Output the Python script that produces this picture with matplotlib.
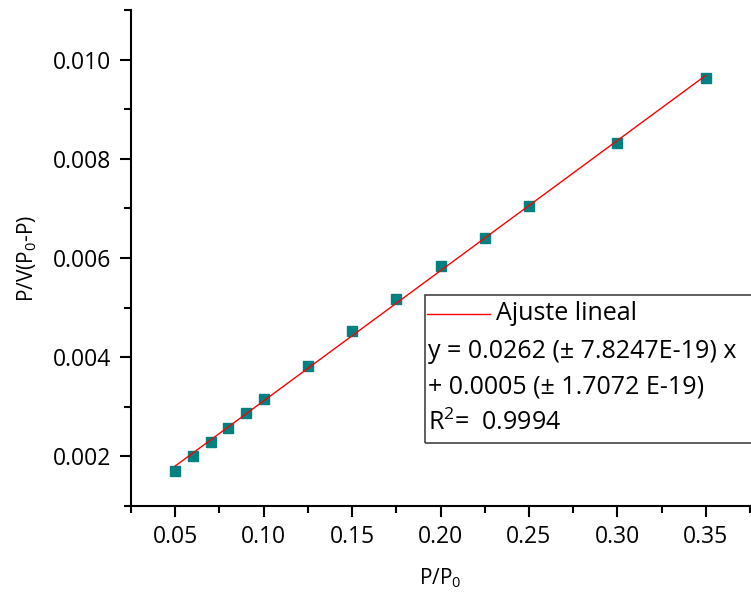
import numpy as np
import matplotlib
matplotlib.use('Agg')
import matplotlib.pyplot as plt
from matplotlib.patches import Rectangle
from matplotlib.ticker import MultipleLocator, FormatStrFormatter

plt.rcParams['font.family'] = ['Open Sans', 'DejaVu Sans']
plt.rcParams['mathtext.fontset'] = 'custom'
plt.rcParams['mathtext.rm'] = 'Open Sans'

# datos
p_rel = [0.05, 0.06, 0.07, 0.08, 0.09, 0.10, 0.125, 0.15, 0.175, 0.20, 0.225, 0.25, 0.30, 0.35]
bet = [0.00170, 0.00200, 0.00230, 0.00258, 0.00287, 0.00315, 0.00383, 0.00452,
       0.00517, 0.00583, 0.00640, 0.00704, 0.00831, 0.00962]
fit_lines = ["y = 0.0262 (± 7.8247E-19) x",
             "+ 0.0005 (± 1.7072 E-19)",
             "R$^2$=  0.9994"]

x = np.array(p_rel)
y = np.array(bet)
m, b = np.polyfit(x, y, 1)
xf = np.array([x.min(), x.max()])

fig = plt.figure(figsize=(7.51, 5.98), dpi=100)
ax = fig.add_axes([131/751, 1-506/598, 619/751, 496/598])
ax.plot(x, y, 's', color='#008080', markersize=7.5, zorder=3)
fit, = ax.plot(xf, m*xf + b, color='red', lw=1, zorder=4)

ax.set_xlim(0.025, 0.375)
ax.set_ylim(0.001, 0.011)
ax.xaxis.set_major_locator(MultipleLocator(0.05))
ax.xaxis.set_minor_locator(MultipleLocator(0.025))
ax.yaxis.set_major_locator(MultipleLocator(0.002))
ax.yaxis.set_minor_locator(MultipleLocator(0.001))
ax.xaxis.set_major_formatter(FormatStrFormatter('%.2f'))
ax.yaxis.set_major_formatter(FormatStrFormatter('%.3f'))
ax.set_xticks([t for t in ax.get_xticks() if 0.04 < t < 0.36])
ax.set_yticks([t for t in ax.get_yticks() if 0.0015 < t < 0.0105])
for s in ['top', 'right']:
    ax.spines[s].set_visible(False)
for s in ['left', 'bottom']:
    ax.spines[s].set_linewidth(1.5)
ax.tick_params(which='major', length=8, width=1.5, labelsize=16.5, pad=6)
ax.tick_params(which='minor', length=5, width=1.5)
ax.set_xlabel('P/P$_0$', fontsize=15, labelpad=12)
ax.set_ylabel('P/V(P$_0$-P)', fontsize=15, labelpad=10)

# cuadro del ajuste
box = Rectangle((425/751, 1-443/598), 0.45, 148/598, transform=fig.transFigure,
                fill=False, edgecolor='#444444', lw=1.2)
fig.patches.append(box)
fig.add_artist(plt.Line2D([427/751, 490/751], [1-314/598, 1-314/598],
                          transform=fig.transFigure, color='red', lw=1))
fig.text(496/751, 1-314/598, 'Ajuste lineal', fontsize=18, va='center')
for i, t in enumerate(fit_lines):
    fig.text(428/751, 1-(351 + 36*i)/598, t, fontsize=18, va='center')

fig.savefig('out.png', dpi=100)
